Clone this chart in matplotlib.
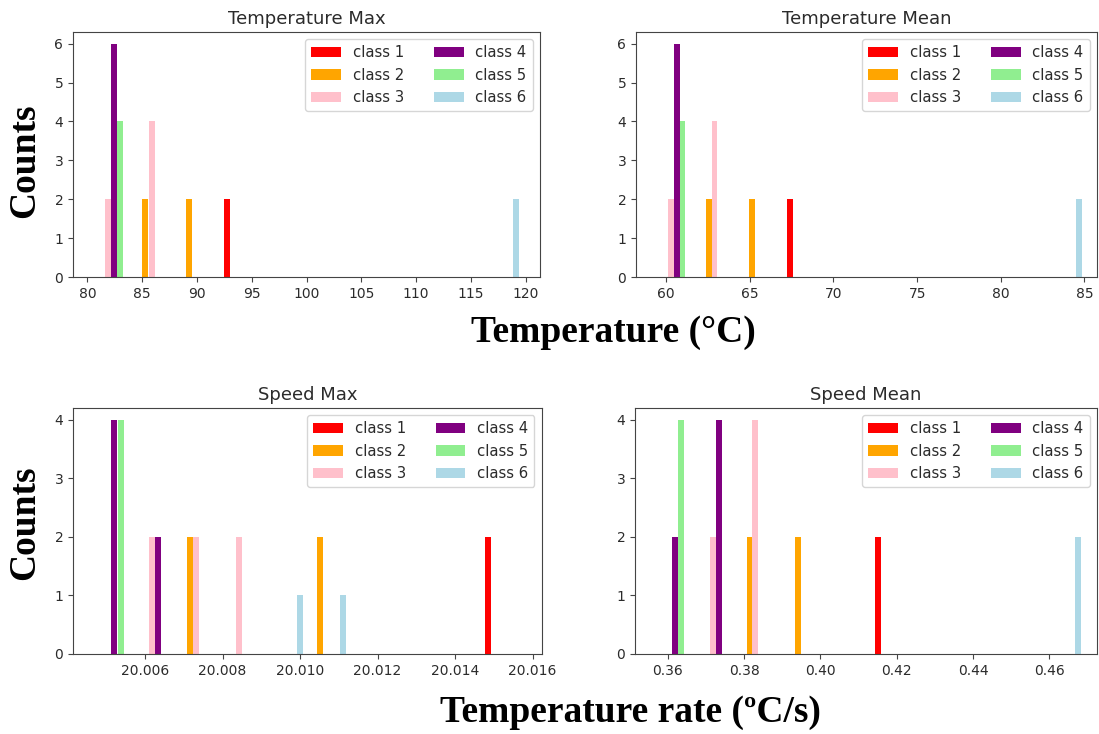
import matplotlib
matplotlib.use("Agg")
from matplotlib import pyplot as plt
from matplotlib.ticker import FormatStrFormatter

classes = ["class 1", "class 2", "class 3", "class 4", "class 5", "class 6"]
colors = ["red", "orange", "pink", "purple", "lightgreen", "lightblue"]

# bar positions / counts per class (class 1 .. class 6)
tmax_x = [[92.7], [85.3, 89.3], [81.9, 85.9], [82.4], [83.0], [119.1]]
tmax_n = [[2], [2, 2], [2, 4], [6], [4], [2]]

tmean_x = [[67.38], [62.55, 65.13], [60.27, 62.89], [60.63], [60.98], [84.69]]
tmean_n = [[2], [2, 2], [2, 4], [6], [4], [2]]

smax_x = [[20.01484], [20.00716, 20.01052], [20.00617, 20.00731, 20.00843],
          [20.00520, 20.00633], [20.00537], [20.01000, 20.01111]]
smax_n = [[2], [2, 2], [2, 2, 2], [4, 2], [4], [1, 1]]

smean_x = [[0.4151], [0.3815, 0.3941], [0.3718, 0.3829], [0.3618, 0.3733],
           [0.3634], [0.4675]]
smean_n = [[2], [2, 2], [2, 4], [2, 4], [4], [2]]

plt.rcParams["text.color"] = "#2b2b2b"
plt.rcParams["xtick.color"] = "#444444"
plt.rcParams["ytick.color"] = "#444444"
plt.rcParams["xtick.labelcolor"] = "#2b2b2b"
plt.rcParams["ytick.labelcolor"] = "#2b2b2b"
plt.rcParams["axes.edgecolor"] = "#444444"

fig = plt.figure(figsize=(10.99, 7.34), dpi=100)


def panel(rect, title, xs, ns, width, xlim, ylim, xticks, fmt):
    ax = fig.add_axes(rect)
    for i in range(6):
        ax.bar(xs[i], ns[i], width=width, color=colors[i], label=classes[i])
    ax.set_xlim(xlim)
    ax.set_ylim(ylim)
    ax.set_xticks(xticks)
    ax.xaxis.set_major_formatter(FormatStrFormatter(fmt))
    ax.set_title(title, fontsize=13)
    ax.tick_params(labelsize=10)
    ax.legend(loc="upper right", ncol=2, fontsize=10.7)
    return ax


panel([0.0665, 0.6226, 0.4249, 0.3338], "Temperature Max", tmax_x, tmax_n, 0.55,
      (78.7, 121.3), (0, 6.3), [80, 85, 90, 95, 100, 105, 110, 115, 120], "%d")
panel([0.5787, 0.6226, 0.4195, 0.3338], "Temperature Mean", tmean_x, tmean_n, 0.35,
      (58.2, 85.75), (0, 6.3), [60, 65, 70, 75, 80, 85], "%d")
panel([0.0664, 0.1090, 0.4267, 0.3351], "Speed Max", smax_x, smax_n, 0.00016,
      (20.00414, 20.01624), (0, 4.2),
      [20.006, 20.008, 20.010, 20.012, 20.014, 20.016], "%.3f")
panel([0.5778, 0.1090, 0.4204, 0.3351], "Speed Mean", smean_x, smean_n, 0.0016,
      (0.3514, 0.4725), (0, 4.2), [0.36, 0.38, 0.40, 0.42, 0.44, 0.46], "%.2f")

big = dict(family="Liberation Serif", weight="bold", fontsize=27, color="black")
fig.text(25 / 1099, 1 - 161 / 734, "Counts", rotation=90, ha="center", va="center", **big)
fig.text(25 / 1099, 1 - 523 / 734, "Counts", rotation=90, ha="center", va="center", **big)
fig.text(613 / 1099, 1 - 333 / 734, "Temperature (°C)", ha="center", va="center", **big)
fig.text(630 / 1099, 1 - 713 / 734, "Temperature rate (ºC/s)", ha="center", va="center", **big)

fig.savefig("out.png", dpi=100)
